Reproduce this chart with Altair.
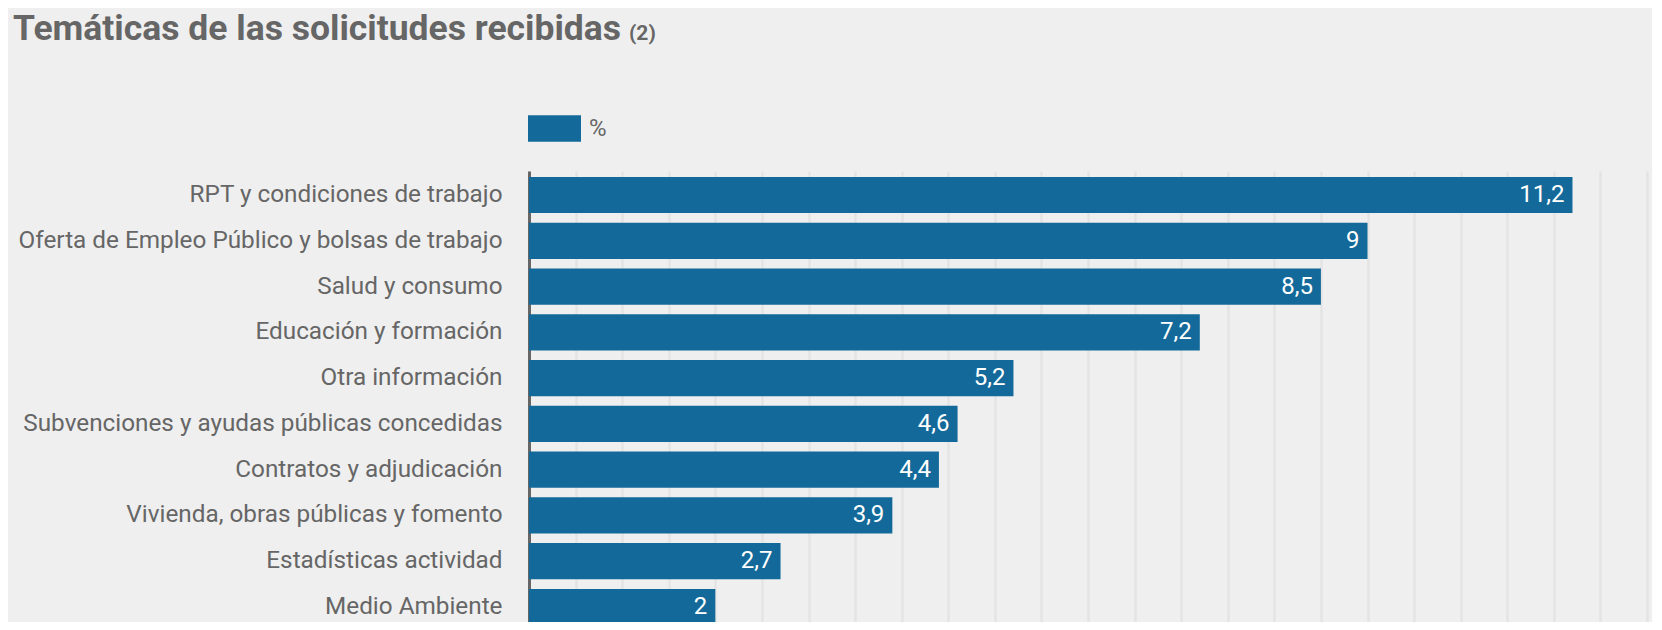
import altair as alt
import pandas as pd

# ---- data ----
categories = [
    "RPT y condiciones de trabajo",
    "Oferta de Empleo Público y bolsas de trabajo",
    "Salud y consumo",
    "Educación y formación",
    "Otra información",
    "Subvenciones y ayudas públicas concedidas",
    "Contratos y adjudicación",
    "Vivienda, obras públicas y fomento",
    "Estadísticas actividad",
    "Medio Ambiente",
]
values = [11.2, 9, 8.5, 7.2, 5.2, 4.6, 4.4, 3.9, 2.7, 2]
series_name = "%"
title_main = "Temáticas de las solicitudes recibidas"
title_note = "(2)"
x_ticks = [i * 0.5 for i in range(25)]

BAR = "#136a9a"
GREY = "#666666"
BG = "#efefef"

def fmt(v):
    s = ("%g" % v)
    return s.replace(".", ",")

df = pd.DataFrame({
    "cat": categories,
    "val": values,
    "serie": [series_name] * len(values),
    "lbl": [fmt(v) for v in values],
})

x_enc = alt.X(
    "val:Q",
    scale=alt.Scale(domain=[0, 12], nice=False, zero=True),
    axis=alt.Axis(values=x_ticks, grid=True, gridColor="#e4e4e4", gridWidth=2.5,
                  labels=False, ticks=False, domain=False, title=None),
)
y_enc = alt.Y(
    "cat:N",
    sort=categories,
    scale=alt.Scale(paddingInner=0.21, paddingOuter=0.13),
    axis=alt.Axis(title=None, labelFont="Roboto", labelFontSize=24.3, labelColor=GREY,
                  labelPadding=27, labelLimit=800, ticks=False, domainColor=GREY,
                  domainWidth=3, grid=False),
)

base = alt.Chart(df)

bars = base.mark_bar().encode(
    x=x_enc,
    y=y_enc,
    color=alt.Color(
        "serie:N",
        scale=alt.Scale(range=[BAR]),
        legend=alt.Legend(
            orient="none", legendX=-1, legendY=-69, title=None,
            symbolType="M-1,-0.5H1V0.5H-1Z", symbolSize=2809,
            symbolStrokeWidth=0, symbolOpacity=1,
            labelFont="Roboto", labelFontSize=24, labelColor=GREY,
            labelOffset=8, padding=0,
        ),
    ),
)

labels = base.mark_text(
    align="right", baseline="middle", dx=-8, color="white",
    font="Roboto", fontSize=24,
).encode(
    x="val:Q",
    y=alt.Y("cat:N", sort=categories),
    text="lbl:N",
)

t1 = alt.Chart(pd.DataFrame({"t": [title_main]})).mark_text(
    align="left", baseline="alphabetic", font="Roboto", fontWeight="bold",
    fontSize=35.5, color=GREY,
).encode(text="t:N", x=alt.value(-516), y=alt.value(-131))

t2 = alt.Chart(pd.DataFrame({"t": [title_note]})).mark_text(
    align="left", baseline="alphabetic", font="Roboto", fontWeight="bold",
    fontSize=21, color=GREY,
).encode(text="t:N", x=alt.value(100), y=alt.value(-131))

chart = alt.layer(bars, labels, t1, t2).properties(
    width=1118,
    height=460,
    padding={"left": 521, "top": 163, "right": 5, "bottom": -9},
    autosize=alt.AutoSizeParams(type="none"),
).configure(background=BG, font="Roboto").configure_view(stroke=None)

chart.save("out.html", embed_options={"renderer": "svg", "actions": False})
